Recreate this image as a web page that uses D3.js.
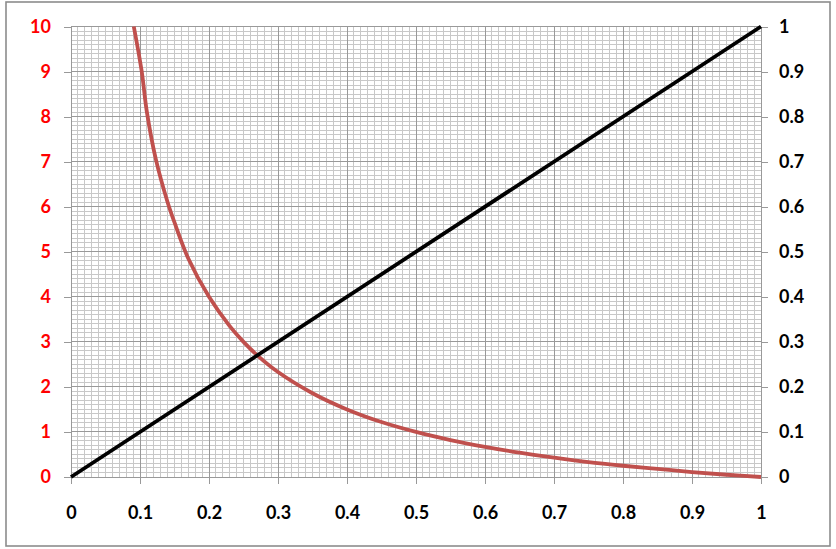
<!DOCTYPE html>
<html lang="en">
<head>
<meta charset="UTF-8">
<title>Two axis curves</title>
<script src="https://d3js.org/d3.v7.js"></script>
<style>
  body { margin: 0; background: #fff; }
  text { font-family: Lato, "Open Sans", sans-serif; font-weight: bold; }
</style>
</head>
<body>
<div id="chart"></div>
<script>
// red curve (left axis, 0-10)
const redX = [0.091, 0.1025, 0.11, 0.123, 0.14, 0.15, 0.17, 0.2, 0.23, 0.25, 0.27, 0.3, 0.35, 0.4, 0.45, 0.5, 0.55, 0.6, 0.65, 0.7, 0.75, 0.8, 0.85, 0.9, 0.95, 1.0];
const redY = [10, 9, 8.1, 7.05, 6.1, 5.65, 4.85, 4, 3.35, 3, 2.7, 2.33, 1.86, 1.5, 1.22, 1, 0.82, 0.67, 0.54, 0.43, 0.33, 0.25, 0.18, 0.11, 0.05, 0];
// black line (right axis, 0-1)
const blackX = [0, 1];
const blackY = [0, 1];

const xTicks = [0, 0.1, 0.2, 0.3, 0.4, 0.5, 0.6, 0.7, 0.8, 0.9, 1];
const leftTicks = [0, 1, 2, 3, 4, 5, 6, 7, 8, 9, 10];
const rightTicks = [0, 0.1, 0.2, 0.3, 0.4, 0.5, 0.6, 0.7, 0.8, 0.9, 1];

const W = 836, H = 549;
const pLeft = 71, pRight = 761, pTop = 26.5, pBottom = 477;

const svg = d3.select("#chart").append("svg")
  .attr("width", W).attr("height", H);

// outer frame
svg.append("rect")
  .attr("x", 6).attr("y", 2).attr("width", 824).attr("height", 544)
  .attr("fill", "#fff").attr("stroke", "#8c8c8c").attr("stroke-width", 1.6);

const x = d3.scaleLinear().domain([0, 1]).range([pLeft, pRight]);
const yL = d3.scaleLinear().domain([0, 10]).range([pBottom, pTop]);
const yR = d3.scaleLinear().domain([0, 1]).range([pBottom, pTop]);

// minor grid
const grid = svg.append("g").attr("shape-rendering", "crispEdges");
grid.selectAll(".mx").data(d3.range(0, 101).map(i => i / 100)).enter()
  .append("line")
  .attr("x1", d => x(d)).attr("x2", d => x(d))
  .attr("y1", pTop).attr("y2", pBottom)
  .attr("stroke", "#c8c8c8").attr("stroke-width", 1);
grid.selectAll(".my").data(d3.range(0, 101).map(i => i / 10)).enter()
  .append("line")
  .attr("y1", d => yL(d)).attr("y2", d => yL(d))
  .attr("x1", pLeft).attr("x2", pRight)
  .attr("stroke", "#c8c8c8").attr("stroke-width", 1);

// major grid
grid.selectAll(".Mx").data(xTicks).enter()
  .append("line")
  .attr("x1", d => x(d)).attr("x2", d => x(d))
  .attr("y1", pTop).attr("y2", pBottom)
  .attr("stroke", "#999").attr("stroke-width", 1);
grid.selectAll(".My").data(leftTicks).enter()
  .append("line")
  .attr("y1", d => yL(d)).attr("y2", d => yL(d))
  .attr("x1", pLeft).attr("x2", pRight)
  .attr("stroke", "#999").attr("stroke-width", 1);

// axes
const ax = svg.append("g").attr("transform", `translate(0,${pBottom})`)
  .call(d3.axisBottom(x).tickValues(xTicks).tickSize(7).tickPadding(22).tickFormat(d3.format("")));
const al = svg.append("g").attr("transform", `translate(${pLeft},0)`)
  .call(d3.axisLeft(yL).tickValues(leftTicks).tickSize(7).tickPadding(13).tickFormat(d3.format("")));
const ar = svg.append("g").attr("transform", `translate(${pRight},0)`)
  .call(d3.axisRight(yR).tickValues(rightTicks).tickSize(7).tickPadding(11).tickFormat(d3.format("")));

[ax, al, ar].forEach(g => {
  g.attr("shape-rendering", "crispEdges");
  g.select(".domain").attr("stroke", "#999");
  g.selectAll(".tick line").attr("stroke", "#999");
  g.selectAll(".tick text").style("font-size", "18px").attr("fill", "#000");
});
al.selectAll(".tick text").attr("fill", "#ff0000");

// curves
const redLine = d3.line()
  .x(d => x(d[0])).y(d => yL(d[1]))
  .curve(d3.curveCatmullRom.alpha(0.5));
svg.append("path")
  .datum(redX.map((v, i) => [v, redY[i]]))
  .attr("d", redLine)
  .attr("fill", "none").attr("stroke", "#c0504d").attr("stroke-width", 3.8);

const blackLine = d3.line().x(d => x(d[0])).y(d => yR(d[1]));
svg.append("path")
  .datum(blackX.map((v, i) => [v, blackY[i]]))
  .attr("d", blackLine)
  .attr("fill", "none").attr("stroke", "#000").attr("stroke-width", 3.8);
</script>
</body>
</html>
